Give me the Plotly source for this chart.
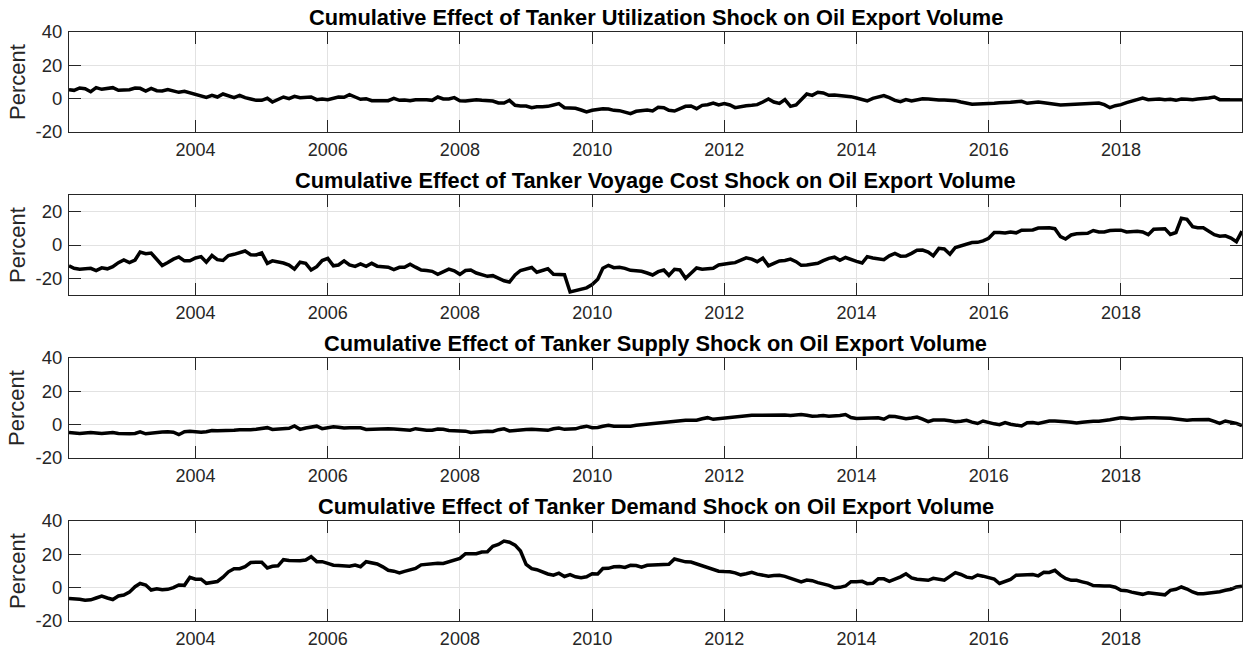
import plotly.graph_objects as go
import pandas as pd

start_month = "2002-02-01"

titles = [
    "Cumulative Effect of Tanker Utilization Shock on Oil Export Volume",
    "Cumulative Effect of Tanker Voyage Cost Shock on Oil Export Volume",
    "Cumulative Effect of Tanker Supply Shock on Oil Export Volume",
    "Cumulative Effect of Tanker Demand Shock on Oil Export Volume",
]

utilization = [
    5.4, 5.0, 6.4, 6.0, 4.2, 6.6, 5.6, 6.2, 6.6, 5.0, 5.4, 5.4,
    6.4, 6.2, 4.6, 6.2, 4.8, 4.6, 5.4, 4.4, 3.8, 4.4, 3.4, 2.6,
    1.8, 0.8, 2.0, 1.0, 2.8, 1.6, 0.6, 2.0, 0.6, -0.2, -1.0, -1.0,
    0.2, -2.0, -0.4, 1.0, 0.0, 1.4, 0.6, 0.8, 1.0, -0.6, -0.2, -0.6,
    0.0, 1.0, 0.8, 2.4, 1.0, -0.4, 0.0, -1.2, -1.2, -1.2, -1.2, 0.2,
    -1.0, -0.8, -1.2, -0.6, -0.4, -0.6, -1.0, 1.0, -0.2, -0.2, 0.6, -1.2,
    -1.4, -0.8, -0.6, -1.0, -1.0, -1.4, -2.6, -2.6, -1.0, -4.0, -4.4, -4.4,
    -5.4, -4.8, -4.8, -4.6, -3.8, -3.0, -5.4, -5.8, -5.8, -6.8, -8.0, -7.0,
    -6.2, -6.0, -6.2, -7.0, -7.2, -8.2, -9.0, -7.6, -7.2, -6.8, -7.4, -5.2,
    -5.4, -7.0, -7.4, -6.2, -4.6, -4.4, -6.0, -4.0, -3.6, -2.6, -3.8, -3.0,
    -3.8, -5.4, -4.6, -4.2, -4.0, -3.6, -2.0, -0.2, -2.0, -2.8, -0.6, -4.6,
    -3.8, -1.0, 2.8, 2.0, 3.8, 3.4, 2.0, 2.2, 2.0, 1.4, 1.2, 0.4,
    -0.8, -1.4, 0.2, 1.2, 1.8, 0.6, -1.0, -1.8, -0.6, -1.4, -0.8, 0.0,
    -0.2, -0.6, -0.8, -0.8, -1.0, -1.2, -2.0, -2.6, -3.4, -3.2, -3.2, -3.0,
    -2.8, -2.4, -2.4, -2.2, -1.8, -1.6, -2.8, -2.2, -2.0, -2.4, -3.0, -3.4,
    -3.8, -3.6, -3.4, -3.2, -3.0, -2.8, -2.8, -2.6, -3.6, -5.4, -4.2, -3.6,
    -2.4, -1.6, -0.6, 0.4, -0.6, -0.4, -0.2, -0.6, -0.4, -1.0, -0.2, -0.4,
    -0.6, -0.2, 0.0, 0.4, 1.0, -0.6, -0.6, -0.6, -0.6, -0.6,
]

voyage_cost = [
    -12.5, -14, -14.5, -14.5, -14, -15.4, -13.7, -14.3, -13, -10.6, -9, -10.5,
    -9, -4.2, -5.2, -4.8, -8.5, -12.3, -10.5, -8.5, -7.2, -9.5, -9.5, -7.8,
    -7, -10.3, -6.3, -8.8, -9.3, -6.3, -5.6, -4.8, -3.6, -5.8, -6, -4.8,
    -11, -9.5, -10, -10.8, -12, -14.5, -10.3, -11, -15, -13, -9.3, -8,
    -12.5, -12, -9.5, -12, -12.8, -11.3, -12.8, -11, -12.7, -13, -13.3, -14.8,
    -13.4, -13.3, -11.5, -13.3, -15, -15.3, -15.8, -17.6, -16, -14.5, -15.5, -17.6,
    -15.3, -15, -16.8, -17.6, -18.8, -18.4, -20, -21.5, -22.2, -18, -15.3, -14.4,
    -13.5, -16.3, -15.2, -14.3, -17.6, -17.6, -17.8, -28.2, -27.5, -26.8, -25.7, -23.7,
    -20.5, -14, -12.2, -13.6, -13.3, -14, -15.2, -15.5, -15.8, -16.8, -18, -16,
    -15, -18.2, -14.6, -15, -20, -17, -13.8, -14.5, -14.5, -14, -12, -11.3,
    -11, -10.6, -9, -7.7, -8.5, -10, -7.9, -12.5, -11, -9.6, -9.3, -8.5,
    -10, -12.2, -12, -11.3, -11, -9.4, -8, -7.3, -9.2, -7.5, -8.9, -9.8,
    -10.8, -7, -7.8, -8.2, -8.8, -6.5, -5, -6.7, -6.6, -5, -3.2, -3,
    -4.2, -6.5, -2, -2.4, -5.5, -1.5, -0.5, 1, 1.5, 1.6, 2.5, 4,
    7.5, 7.5, 7.2, 7.8, 7.3, 8.9, 8.9, 9, 10.2, 10.3, 10.3, 9.8,
    5, 3.6, 6, 6.7, 6.8, 7, 8.7, 7.8, 7.8, 8.7, 8.8, 8.9,
    7.8, 8, 8.3, 7.8, 6.2, 9.5, 9.8, 9.8, 6.3, 7.5, 16, 15.4,
    11, 10.4, 10.3, 8, 6.2, 5.3, 5.5, 4.2, 2, 8.3,
]

supply = [
    -4.7, -5, -5.3, -5, -4.7, -5, -5.3, -5, -4.7, -5.3, -5.5, -5.5,
    -5.3, -4.3, -5.5, -5, -4.5, -4.4, -4.3, -4.5, -6, -4.2, -4, -4.3,
    -4.6, -4.2, -3.5, -3.6, -3.7, -3.7, -3.4, -3.1, -3.2, -3, -2.8, -2.3,
    -1.8, -2.9, -2.6, -2.2, -2.2, -0.8, -2.8, -2, -1.2, -0.9, -2.4, -2,
    -1.2, -1.6, -2, -1.8, -1.8, -1.9, -2.9, -2.7, -2.5, -2.4, -2.5, -2.6,
    -2.7, -3, -3.3, -2.4, -3.1, -3.3, -3.3, -2.6, -2.8, -3.5, -3.6, -3.7,
    -3.9, -4.7, -4.4, -3.9, -4, -4.1, -3, -2.5, -3.8, -3.5, -3.1, -2.9,
    -2.8, -3.1, -3.4, -3.4, -2.5, -2, -2.8, -2.9, -2.5, -1.5, -0.9, -1.8,
    -1.7, -1, -0.4, -1, -1, -1, -1, -0.4, 0, 0.1, 0.5, 0.9,
    1.4, 1.7, 2, 2.5, 2.7, 2.7, 2.7, 3.5, 4.2, 3.2, 3.6, 4.1,
    4.4, 4.6, 5, 5.3, 5.6, 5.7, 5.8, 5.9, 6, 6.2, 5.8, 5.5,
    5.8, 6.1, 5.6, 5.1, 5.2, 5.5, 5.1, 5.1, 5.5, 6.1, 4.3, 3.7,
    3.7, 4, 4.2, 4.1, 3.3, 5.1, 4.9, 4.5, 3.6, 4, 4.6, 3.3,
    1.8, 2.8, 3, 2.8, 2.4, 1.8, 2.1, 2.6, 1.5, 0.7, 2.2, 1.2,
    0.5, 0, 1.3, 0.3, -0.3, -0.8, 1.2, 1.3, 0.7, 1.4, 2.2, 2.2,
    2.2, 1.8, 1.4, 1, 1.5, 1.9, 2, 2.1, 2.3, 2.9, 3.5, 4.1,
    3.8, 3.5, 3.9, 4.3, 4.2, 4.1, 4.1, 4, 3.8, 3.4, 3, 2.7,
    2.9, 3.1, 3.1, 3.1, 2, 0.8, 2.2, 1.6, 0.8, -0.6,
]

demand = [
    -6.5, -6.6, -7, -7.5, -7.3, -6.2, -5, -6.2, -7.1, -5, -4.4, -2.7,
    0.6, 2.5, 1.6, -1.4, -0.7, -1.2, -1, 0, 1.6, 1.4, 6.2, 5.1,
    5.1, 2.6, 2.9, 3.7, 6.3, 9.5, 11.3, 11.4, 12.6, 15.1, 15.3, 15.2,
    11.8, 12.8, 13.1, 16.8, 16.3, 16.2, 16.2, 16.6, 18.6, 15.6, 15.6, 14.6,
    13.5, 13.3, 13.2, 12.9, 13.6, 12.6, 15.6, 15, 14.2, 12.5, 10.4, 9.9,
    8.9, 9.8, 10.6, 11.5, 13.7, 14.1, 14.6, 14.6, 14.5, 15.5, 16.2, 17.6,
    20.4, 20.6, 20.4, 21.4, 21.6, 24.8, 25.9, 28, 27.3, 25.5, 22, 14,
    11.4, 10.8, 9.2, 8.2, 7.5, 8.7, 6.7, 7.8, 6.5, 6, 6.5, 8.4,
    8.2, 11.5, 11.6, 12.5, 12.7, 12.1, 13.4, 13.3, 12.3, 13.4, 13.6, 13.9,
    13.8, 14, 17.2, 16.2, 15.5, 15.4, 14.3, 13.2, 12.4, 11.1, 9.9, 9.7,
    9.6, 8.9, 7.7, 8.4, 9.2, 8.1, 7.3, 6.9, 7.3, 7.4, 6.8, 5.8,
    4.3, 3.4, 4.6, 4.2, 3, 2.2, 1.4, 0, 0.2, 1, 3.6, 3.5,
    3.8, 2.4, 2.6, 5.3, 5.3, 3.8, 4.9, 6.5, 8.3, 5.9, 5.1, 4.7,
    4.4, 5.6, 4.8, 4.5, 6.8, 9, 7.9, 6.3, 5.8, 7.6, 6.9, 6,
    5.1, 2.5, 3.5, 5, 7.5, 7.5, 7.5, 7.9, 7.1, 9.3, 9.1, 10.4,
    7.5, 5.5, 4.4, 4.4, 3.5, 2.7, 1.3, 1, 1, 1, 0.3, -1.6,
    -1.8, -2.7, -3.4, -4, -3.1, -3.4, -4.1, -4.3, -1.6, -1, 0.4, -0.8,
    -2.6, -3.6, -3.6, -3.3, -2.6, -2.4, -1.6, -1, 0.4, 0.8,
]

x_tick_years = [2004, 2006, 2008, 2010, 2012, 2014, 2016, 2018]
y_ranges = [[-20, 40], [-30, 30], [-20, 40], [-20, 40]]
y_ticks = [[-20, 0, 20, 40], [-20, 0, 20], [-20, 0, 20, 40], [-20, 0, 20, 40]]

series_list = [utilization, voyage_cost, supply, demand]
dates = pd.date_range(start_month, periods=len(utilization), freq="MS")

W, H = 1245, 649
# panel pixel boxes (top, bottom)
panels_px = [(32, 132), (195, 295), (358, 458), (521, 621)]

AX = "#262626"
GRID = "#e2e2e2"
FONT = "Liberation Sans, Arial, sans-serif"

fig = go.Figure()
layout = dict(
    width=W, height=H,
    margin=dict(l=69, r=3, t=0, b=0, autoexpand=False),
    paper_bgcolor="white", plot_bgcolor="white",
    showlegend=False,
    font=dict(family=FONT, color=AX, size=18),
)
annotations = []
for i, ser in enumerate(series_list):
    sfx = "" if i == 0 else str(i + 1)
    fig.add_trace(go.Scatter(
        x=dates, y=ser, mode="lines",
        line=dict(color="black", width=3.5),
        xaxis="x" + sfx, yaxis="y" + sfx,
        hoverinfo="skip",
    ))
    top, bot = panels_px[i]
    dom = [1 - bot / H, 1 - top / H]
    layout["xaxis" + sfx] = dict(
        domain=[0, 1], anchor="y" + sfx, automargin=False,
        range=[dates[0], dates[-1]],
        tickvals=[pd.Timestamp(f"{y}-01-01") for y in x_tick_years],
        ticktext=[str(y) for y in x_tick_years],
        ticks="inside", ticklen=12, tickwidth=1, tickcolor=AX,
        showline=True, linecolor=AX, linewidth=1, mirror="ticks",
        showgrid=True, gridcolor=GRID, gridwidth=1, zeroline=False,
        tickfont=dict(family=FONT, size=18, color=AX),
        ticklabelstandoff=1,
    )
    layout["yaxis" + sfx] = dict(
        domain=dom, anchor="x" + sfx, automargin=False,
        range=y_ranges[i],
        tickvals=y_ticks[i],
        ticktext=[str(v) for v in y_ticks[i]],
        ticks="inside", ticklen=12, tickwidth=1, tickcolor=AX,
        showline=True, linecolor=AX, linewidth=1, mirror="ticks",
        showgrid=True, gridcolor=GRID, gridwidth=1, zeroline=False,
        tickfont=dict(family=FONT, size=18.5, color=AX),
        ticklabelstandoff=2,
    )
    annotations.append(dict(
        text="<b>" + titles[i] + "</b>", xref="paper", yref="paper",
        x=0.5, y=dom[1], xanchor="center", yanchor="bottom", yshift=0,
        showarrow=False, font=dict(family=FONT, size=21.8, color="black"),
    ))
    annotations.append(dict(
        text="Percent", xref="paper", yref="paper",
        x=0, y=(dom[0] + dom[1]) / 2, xanchor="center", yanchor="middle",
        xshift=-52, textangle=-90, showarrow=False,
        font=dict(family=FONT, size=22, color=AX),
    ))

layout["annotations"] = annotations
fig.update_layout(**layout)
fig.write_html(
    "out.html",
    config={"displayModeBar": False},
    post_script="document.body.style.margin='0';document.body.style.padding='0';document.body.style.overflow='hidden';",
)
